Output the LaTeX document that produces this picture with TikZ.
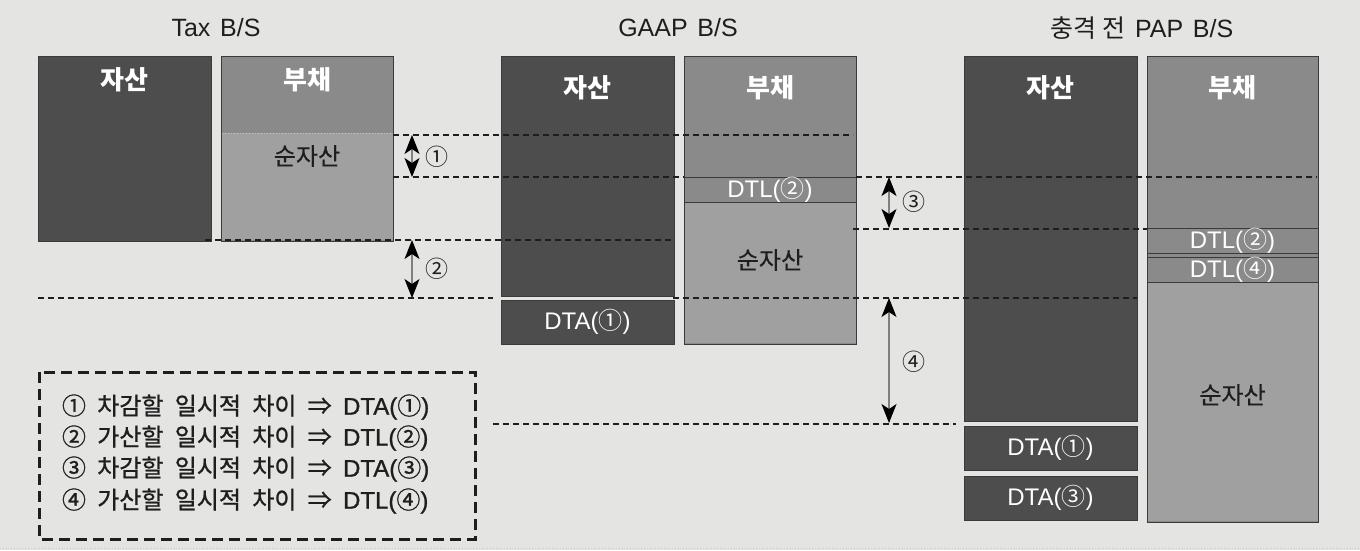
\documentclass[tikz,border=0pt]{standalone}
\usepackage{fontspec}
\setmainfont{Noto Sans CJK KR}
\newfontfamily\lxfont{Liberation Sans}
\newfontfamily\titlefont[WordSpace=1.4]{Liberation Sans}
\newfontfamily\legfont[WordSpace=2.1,FakeBold=1]{Noto Sans CJK KR}
\newfontfamily\leglxfont[FakeBold=1]{Liberation Sans}
\newfontfamily\medfont[FakeBold=0.6]{Noto Sans CJK KR}
\newcommand\lx[1]{{\lxfont #1}}
\newcommand\ttl[1]{{\titlefont #1}}
\newcommand\llx[1]{{\leglxfont #1}}
\usetikzlibrary{arrows.meta}
\definecolor{bg}{HTML}{E4E4E2}
\definecolor{darkbox}{HTML}{4D4D4D}
\definecolor{midbox}{HTML}{8A8A8A}
\definecolor{lightbox}{HTML}{A0A0A0}
\definecolor{edgecol}{HTML}{3A3A3A}
\definecolor{ink}{HTML}{1E1E1E}
\definecolor{shaft}{HTML}{808080}
\definecolor{sepcol}{HTML}{C8C8C8}
\begin{document}
\begin{tikzpicture}[x=1pt,y=-1pt,
  every node/.style={inner sep=0pt, outer sep=0pt},
  blk/.style={draw=edgecol, line width=1pt, anchor=north west},
  assetbox/.style={blk, fill=darkbox},
  liabbox/.style={blk, fill=midbox},
  equitybox/.style={fill=lightbox, anchor=north west},
  frame/.style={draw=edgecol, line width=1pt},
  titletext/.style={font=\fontsize{25}{28}\selectfont, text=ink},
  whitehead/.style={font=\bfseries\fontsize{26}{30}\selectfont, text=white},
  eqtext/.style={font=\medfont\fontsize{24}{28}\selectfont, text=ink},
  boxtext/.style={font=\fontsize{24}{28}\selectfont, text=white},
  numtext/.style={font=\fontsize{23}{28}\selectfont, text=ink},
  legendtext/.style={font=\legfont\fontsize{24}{28}\selectfont, text=ink, anchor=west},
  guide/.style={draw=ink, line width=1.3pt, dash pattern=on 6pt off 4pt},
  dimarrow/.style={draw=shaft, line width=1.2pt,
    {Stealth[length=19pt,width=15pt,inset=5pt,color=black]}-{Stealth[length=19pt,width=15pt,inset=5pt,color=black]}},
  legendframe/.style={draw=ink, line width=3pt, dash pattern=on 11pt off 6pt},
]
\useasboundingbox (0,0) rectangle (1360,550);
\fill[bg] (0,0) rectangle (1360,550);
\draw[sepcol, line width=0.8pt, dotted] (0,548) -- (1360,548);

% ---------- titles ----------
\node[titletext] (t1) at (216,28) {\ttl{Tax B/S}};
\node[titletext] (t2) at (678,28) {\ttl{GAAP B/S}};
\node[titletext] (t3) at (1142,28) {충격 전\ttl{ PAP B/S}};

% ---------- Tax B/S ----------
\node[assetbox, minimum width=173pt, minimum height=185pt] (tA) at (38,56) {};
\node[liabbox, minimum width=172pt, minimum height=185pt] (tL) at (221,56) {};
\node[equitybox, minimum width=171pt, minimum height=107pt] (tE) at (221.5,133) {};
\draw[frame] (tL.north west) rectangle (tL.south east);
\draw[sepcol, line width=1pt, dotted] (tE.north west) -- (tE.north east);
\node[whitehead] (tAl) at (124.5,80) {자산};
\node[whitehead] (tLl) at (307,80) {부채};
\node[eqtext] (tEl) at (307,156) {순자산};

% ---------- GAAP B/S ----------
\node[assetbox, minimum width=173pt, minimum height=240pt] (gA) at (501,56) {};
\node[assetbox, minimum width=173pt, minimum height=44pt] (gDTA) at (501,300) {};
\node[boxtext] at (gDTA.center) {\lx{DTA(}①\lx{)}};
\node[liabbox, minimum width=172pt, minimum height=288pt] (gL) at (684,56) {};
\node[equitybox, minimum width=171pt, minimum height=141pt] (gE) at (684.5,202) {};
\draw[frame] (gL.north west) rectangle (gL.south east);
\node[liabbox, minimum width=172pt, minimum height=25pt] (gDTL) at (684,177) {};
\node[boxtext] at (gDTL.center) {\lx{DTL(}②\lx{)}};
\node[whitehead] (gAl) at (587.5,88) {자산};
\node[whitehead] (gLl) at (770,88) {부채};
\node[eqtext] (gEl) at (770,260) {순자산};

% ---------- PAP B/S ----------
\node[assetbox, minimum width=173pt, minimum height=365pt] (pA) at (964,56) {};
\node[assetbox, minimum width=173pt, minimum height=44pt] (pDTA1) at (964,426) {};
\node[boxtext] at (pDTA1.center) {\lx{DTA(}①\lx{)}};
\node[assetbox, minimum width=173pt, minimum height=44pt] (pDTA3) at (964,476) {};
\node[boxtext] at (pDTA3.center) {\lx{DTA(}③\lx{)}};
\node[liabbox, minimum width=171pt, minimum height=466pt] (pL) at (1147,56) {};
\node[equitybox, minimum width=170pt, minimum height=239pt] (pE) at (1147.5,282) {};
\draw[frame] (pL.north west) rectangle (pL.south east);
\node[liabbox, minimum width=171pt, minimum height=25pt] (pDTL2) at (1147,228) {};
\node[boxtext] at (pDTL2.center) {\lx{DTL(}②\lx{)}};
\node[liabbox, minimum width=171pt, minimum height=25pt] (pDTL4) at (1147,257) {};
\node[boxtext] at (pDTL4.center) {\lx{DTL(}④\lx{)}};
\node[whitehead] (pAl) at (1050.5,88) {자산};
\node[whitehead] (pLl) at (1232.5,88) {부채};
\node[eqtext] (pEl) at (1232.5,395) {순자산};

% ---------- guide lines ----------
\coordinate (g1a) at (393,135); \coordinate (g1b) at (853,135);
\coordinate (g2a) at (393,177); \coordinate (g2b) at (684,177);
\coordinate (g2c) at (856,177); \coordinate (g2d) at (1317,177);
\coordinate (g3a) at (205,240); \coordinate (g3b) at (674,240);
\coordinate (g4a) at (38,298);  \coordinate (g4b) at (493,298);
\coordinate (g4c) at (673,298); \coordinate (g4d) at (1137,298);
\coordinate (g5a) at (853,229); \coordinate (g5b) at (1147,229);
\coordinate (g6a) at (493,424); \coordinate (g6b) at (956,424);
\draw[guide] (g1a) -- (g1b);
\draw[guide] (g2a) -- (g2b);
\draw[guide] (g2c) -- (g2d);
\draw[guide] (g3a) -- (g3b);
\draw[guide] (g4a) -- (g4b);
\draw[guide] (g4c) -- (g4d);
\draw[guide] (g5a) -- (g5b);
\draw[guide] (g6a) -- (g6b);

% ---------- dimension arrows ----------
\coordinate (a1t) at (412,135); \coordinate (a1b) at (412,177);
\coordinate (a2t) at (412,240); \coordinate (a2b) at (412,298);
\coordinate (a3t) at (889,177); \coordinate (a3b) at (889,228);
\coordinate (a4t) at (889,298); \coordinate (a4b) at (889,423);
\draw[dimarrow] (a1t) -- (a1b);
\draw[dimarrow] (a2t) -- (a2b);
\draw[dimarrow] (a3t) -- (a3b);
\draw[dimarrow] (a4t) -- (a4b);
\node[numtext] (n1) at (437,157) {①};
\node[numtext] (n2) at (437,269) {②};
\node[numtext] (n3) at (914,202) {③};
\node[numtext] (n4) at (914,362) {④};

% ---------- legend ----------
\coordinate (legNW) at (39,372); \coordinate (legSE) at (475,539);
\draw[legendframe] (legNW) rectangle (legSE);
\node[legendtext] (l1) at (62,407) {① 차감할 일시적 차이 ⇒ \llx{DTA(}①\llx{)}};
\node[legendtext] (l2) at (62,438) {② 가산할 일시적 차이 ⇒ \llx{DTL(}②\llx{)}};
\node[legendtext] (l3) at (62,469) {③ 차감할 일시적 차이 ⇒ \llx{DTA(}③\llx{)}};
\node[legendtext] (l4) at (62,501) {④ 가산할 일시적 차이 ⇒ \llx{DTL(}④\llx{)}};
\end{tikzpicture}
\end{document}
